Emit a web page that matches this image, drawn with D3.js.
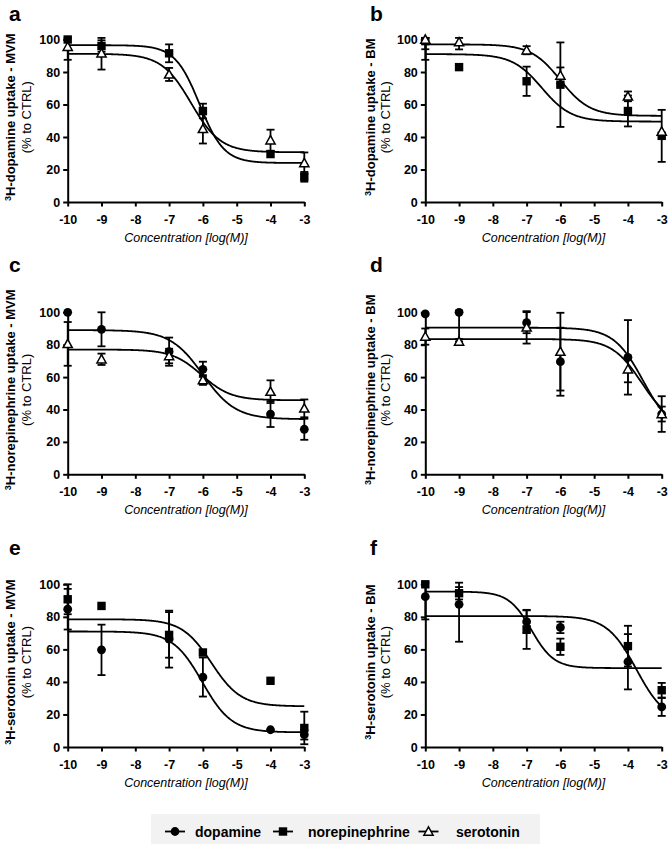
<!DOCTYPE html>
<html><head><meta charset="utf-8">
<script src="https://cdn.jsdelivr.net/npm/d3@7"></script>
<style>
body{margin:0;background:#fff}
svg{display:block}
text{font-family:"Liberation Sans",Arial,Helvetica,sans-serif;fill:#000}
</style>
</head><body>
<svg id="chart" width="669" height="844"></svg>
<script>
// ---------- data ----------
const concentrations = [-10, -9, -7, -6, -4, -3];
const xTickValues = [-10, -9, -8, -7, -6, -5, -4, -3];
const yTickValues = [0, 20, 40, 60, 80, 100];
const legendNames = ["dopamine", "norepinephrine", "serotonin"];
const panelLabels = ["a", "b", "c", "d", "e", "f"];
const panelTitles = [
  "H-dopamine uptake - MVM", "H-dopamine uptake - BM",
  "H-norepinephrine uptake - MVM", "H-norepinephrine uptake - BM",
  "H-serotonin uptake - MVM", "H-serotonin uptake - BM"
];
const subTitle = "(% to CTRL)";
const xTitle = "Concentration [log(M)]";

// panel a: dopamine uptake MVM
const aNoreMean = [100, 96, 91.5, 56, 29.5, 15.5];
const aNoreSem  = [0, 3.5, 5.5, 4.5, 0, 3];
const aSeroMean = [95.5, 91.5, 78.5, 45, 38, 24];
const aSeroSem  = [8, 10, 4, 9, 6.5, 6.5];
// panel b: dopamine uptake BM
const bNoreMean = [99, 83, 74.3, 72.2, 56, 40.7];
const bNoreSem  = [11.5, 0, 9, 26, 9.5, 16];
const bSeroMean = [100, 98.4, 93.4, 77.8, 65, 43.4];
const bSeroSem  = [6, 4.5, 2.5, 5, 3, 0];
// panel c: norepinephrine uptake MVM
const cDopaMean = [100, 89.5, 75.7, 64.8, 37.2, 27.8];
const cDopaSem  = [0, 10.5, 8.7, 4.7, 8, 6.5];
const cSeroMean = [80.5, 71, 73, 58.2, 51, 40.7];
const cSeroSem  = [13.5, 3.5, 4.5, 3, 7, 5.5];
// panel d: norepinephrine uptake BM
const dDopaMean = [99, 100, 93.6, 69.5, 72.2, 37.2];
const dDopaSem  = [0, 18, 6.5, 21, 23, 11];
const dSeroMean = [85, 82, 90.7, 75.7, 64.8, 37.2];
const dSeroSem  = [5, 1.5, 10, 24, 8, 4.6];
// panel e: serotonin uptake MVM
const eDopaMean = [84.7, 59.7, 66.3, 43, 10.6, 7.6];
const eDopaSem  = [12.5, 15.5, 17.5, 12, 0, 3];
const eNoreMean = [90.8, 86.7, 68.9, 58.1, 40.7, 11.7];
const eNoreSem  = [9.2, 0, 14, 0, 0, 10];
// panel f: serotonin uptake BM
const fDopaMean = [92.4, 87.7, 77, 73.5, 52.4, 24.6];
const fDopaSem  = [14, 23, 7, 3.5, 17, 5.5];
const fNoreMean = [100, 94.5, 72.3, 61.6, 62, 34.9];
const fNoreSem  = [0, 3.8, 12, 5, 12.5, 4.5];

// fitted dose-response parameters [top, bottom, logIC50, hill]
const aNoreFit = [96.5, 24, -6.1, 1.2];
const aSeroFit = [91.2, 30.6, -6.35, 1];
const bNoreFit = [91, 49.5, -6.55, 1];
const bSeroFit = [97, 53, -6.0, 1];
const cDopaFit = [89, 34, -6.0, 0.9];
const cSeroFit = [77, 45.7, -6.04, 1];
const dDopaFit = [90.5, 25, -3.55, 1];
const dSeroFit = [83.5, 30, -3.6, 1];
const eDopaFit = [71, 9, -6.02, 1];
const eNoreFit = [78.5, 25, -5.75, 1];
const fDopaFit = [80.5, 15, -3.75, 1];
const fNoreFit = [95.5, 48.5, -6.86, 1.3];

// ---------- layout ----------
const colGeom = [
  {x0: 67.7, x1: 304.3, boldX: 15, normX: 31, labelX: 9},
  {x0: 425.3, x1: 661.7, boldX: 375, normX: 390, labelX: 370}
];
const rowGeom = [
  {yTop: 39.5, yBot: 202, labelY: 20.5},
  {yTop: 312.3, yBot: 474.3, labelY: 272},
  {yTop: 584.3, yBot: 747, labelY: 555}
];

const panels = [
  {series: [{m: "square", mean: aNoreMean, sem: aNoreSem, fit: aNoreFit}, {m: "triangle", mean: aSeroMean, sem: aSeroSem, fit: aSeroFit}]},
  {series: [{m: "square", mean: bNoreMean, sem: bNoreSem, fit: bNoreFit}, {m: "triangle", mean: bSeroMean, sem: bSeroSem, fit: bSeroFit}]},
  {series: [{m: "circle", mean: cDopaMean, sem: cDopaSem, fit: cDopaFit}, {m: "triangle", mean: cSeroMean, sem: cSeroSem, fit: cSeroFit}]},
  {series: [{m: "circle", mean: dDopaMean, sem: dDopaSem, fit: dDopaFit}, {m: "triangle", mean: dSeroMean, sem: dSeroSem, fit: dSeroFit}]},
  {series: [{m: "circle", mean: eDopaMean, sem: eDopaSem, fit: eDopaFit}, {m: "square", mean: eNoreMean, sem: eNoreSem, fit: eNoreFit}]},
  {series: [{m: "circle", mean: fDopaMean, sem: fDopaSem, fit: fDopaFit}, {m: "square", mean: fNoreMean, sem: fNoreSem, fit: fNoreFit}]}
];

const svg = d3.select("#chart");

function drawMarker(g, type, cx, cy) {
  if (type === "circle") {
    g.append("circle").attr("cx", cx).attr("cy", cy).attr("r", 4.4).attr("fill", "#000");
  } else if (type === "square") {
    g.append("rect").attr("x", cx - 4.2).attr("y", cy - 4.2).attr("width", 8.4).attr("height", 8.4).attr("fill", "#000");
  } else {
    const s = 4.6;
    g.append("path")
      .attr("d", `M${cx},${cy - s}L${cx + s},${cy + s * 0.8}L${cx - s},${cy + s * 0.8}Z`)
      .attr("fill", "#fff").attr("stroke", "#000").attr("stroke-width", 1.5);
  }
}

const fourPL = (p, x) => p[1] + (p[0] - p[1]) / (1 + Math.pow(10, (x - p[2]) * p[3]));

panels.forEach((p, i) => {
  const cg = colGeom[i % 2], rg = rowGeom[Math.floor(i / 2)];
  const x = d3.scaleLinear().domain([-10, -3]).range([cg.x0, cg.x1]);
  const y = d3.scaleLinear().domain([0, 100]).range([rg.yBot, rg.yTop]);
  const g = svg.append("g");

  // panel label
  g.append("text").attr("x", cg.labelX).attr("y", rg.labelY)
    .attr("font-size", 21).attr("font-weight", "bold").text(panelLabels[i]);

  // axes
  const xAxis = g.append("g").attr("transform", `translate(0,${rg.yBot})`)
    .call(d3.axisBottom(x).tickValues(xTickValues).tickSize(4.5).tickSizeOuter(0).tickPadding(8.5).tickFormat(d3.format("d")));
  const yAxis = g.append("g").attr("transform", `translate(${cg.x0},0)`)
    .call(d3.axisLeft(y).tickValues(yTickValues).tickSize(4.5).tickSizeOuter(0).tickPadding(3));
  [xAxis, yAxis].forEach(a => {
    a.select(".domain").attr("stroke", "#000").attr("stroke-width", 2);
    a.selectAll(".tick line").attr("stroke", "#000").attr("stroke-width", 2);
    a.selectAll(".tick text").attr("font-size", 12.5).attr("font-weight", "bold")
      .attr("font-family", '"Liberation Sans",Arial,sans-serif').attr("fill", "#000");
  });
  xAxis.selectAll(".tick text").text(d => d3.format("d")(d).replace("−", "-"));

  // axis titles
  const cy = (rg.yTop + rg.yBot) / 2 - 3.5;
  const t = g.append("text").attr("transform", `translate(${cg.boldX},${cy}) rotate(-90)`)
    .attr("text-anchor", "middle").attr("font-size", 13).attr("font-weight", "bold");
  t.append("tspan").attr("font-size", 9).attr("dy", -4.5).text("3");
  t.append("tspan").attr("dy", 4.5).text(panelTitles[i]);
  g.append("text").attr("transform", `translate(${cg.normX},${cy}) rotate(-90)`)
    .attr("text-anchor", "middle").attr("font-size", 13).attr("fill", "#222").text(subTitle);
  g.append("text").attr("x", (cg.x0 + cg.x1) / 2).attr("y", rg.yBot + 39.5)
    .attr("text-anchor", "middle").attr("font-size", 12.5).attr("font-style", "italic")
    .attr("fill", "#222").text(xTitle);

  // fitted curves
  const line = d3.line().x(d => x(d)).y(d => y(d.v));
  p.series.forEach(s => {
    const xs = d3.range(-10, -2.999, 0.02);
    g.append("path")
      .attr("d", d3.line().x(d => x(d)).y(d => y(fourPL(s.fit, d)))(xs))
      .attr("fill", "none").attr("stroke", "#000").attr("stroke-width", 1.8);
  });
  // error bars
  p.series.forEach(s => {
    concentrations.forEach((c, k) => {
      const e = s.sem[k];
      if (!e) return;
      const px = x(c), hi = y(Math.min(s.mean[k] + e, 101)), lo = y(s.mean[k] - e);
      g.append("line").attr("x1", px).attr("x2", px).attr("y1", hi).attr("y2", lo)
        .attr("stroke", "#000").attr("stroke-width", 1.8);
      [hi, lo].forEach(yy => g.append("line").attr("x1", px - 4).attr("x2", px + 4)
        .attr("y1", yy).attr("y2", yy).attr("stroke", "#000").attr("stroke-width", 1.8));
    });
  });
  // markers
  p.series.forEach(s => {
    concentrations.forEach((c, k) => drawMarker(g, s.m, x(c), y(s.mean[k])));
  });
});

// ---------- legend ----------
const lg = svg.append("g");
lg.append("rect").attr("x", 151).attr("y", 814).attr("width", 389).attr("height", 32).attr("fill", "#f2f2f2");
const legendMarkers = ["circle", "square", "triangle"];
const legendX = d3.scalePoint().domain(legendNames).range([175, 428.5]);
const legendTextX = [195, 308, 456];
const legendMarkerX = [175, 283, 428.5];
legendNames.forEach((n, i) => {
  const mx = legendMarkerX[i], my = 831.5;
  lg.append("line").attr("x1", mx - 10).attr("x2", mx + 10).attr("y1", my).attr("y2", my)
    .attr("stroke", "#000").attr("stroke-width", 1.8);
  drawMarker(lg, legendMarkers[i], mx, my);
  lg.append("text").attr("x", legendTextX[i]).attr("y", 836.5)
    .attr("font-size", 14).attr("font-weight", "bold").text(n);
});
</script>
</body></html>
